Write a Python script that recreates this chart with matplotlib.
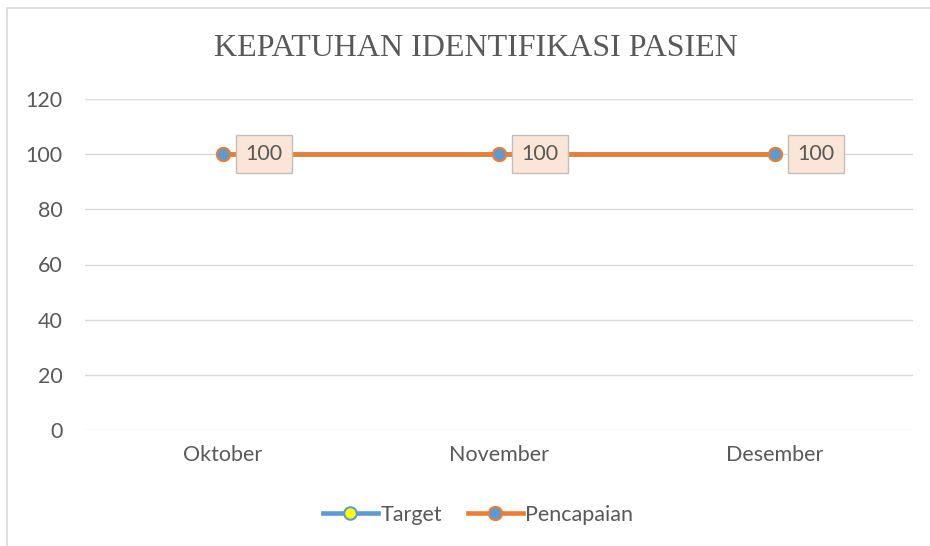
import matplotlib
matplotlib.use("Agg")
import matplotlib.pyplot as plt
from matplotlib.lines import Line2D
from matplotlib.patches import Rectangle

months = ["Oktober", "November", "Desember"]
target = [100, 100, 100]
pencapaian = [100, 100, 100]
yticks = [0, 20, 40, 60, 80, 100, 120]

fig = plt.figure(figsize=(9.30, 5.46), dpi=100)
ax = fig.add_axes([85/930, 1-430/546, (913-85)/930, (430-99)/546])

txt = "#595959"
font = "Lato"
fs = 15.5

for y in yticks:
    ax.axhline(y, color="#d9d9d9", lw=1.0, zorder=0)

x = list(range(len(months)))
ax.plot(x, target, color="#5B9BD5", lw=3.3, marker="o", ms=9, mfc="#FFFF00",
        mec="#5B9BD5", mew=1.5, zorder=2, solid_capstyle="round")
ax.plot(x, pencapaian, color="#ED7D31", lw=3.3, marker="o", ms=9.5, mfc="#5B9BD5",
        mec="#ED7D31", mew=1.5, zorder=3, solid_capstyle="round")

for xi, v in zip(x, pencapaian):
    ax.annotate(str(v), (xi, v), xytext=(41, 0), textcoords="offset pixels",
                ha="center", va="center", fontsize=fs, color=txt, family=font,
                bbox=dict(boxstyle="square,pad=0.42", fc="#FBE5D6", ec="#BFBFBF", lw=1.0),
                zorder=5)

ax.set_xlim(-0.5, len(months) - 0.5)
ax.set_ylim(0, 120)
ax.set_yticks(yticks)
ax.set_yticklabels([str(t) for t in yticks], fontsize=fs, color=txt, family=font)
ax.set_xticks(x)
ax.set_xticklabels(months, fontsize=fs, color=txt, family=font)
ax.tick_params(length=0, pad=16)
ax.tick_params(axis="x", pad=11)
for s in ax.spines.values():
    s.set_visible(False)

fig.text(476/930, 1-48/546, "KEPATUHAN IDENTIFIKASI PASIEN", ha="center", va="center",
         fontsize=23, color=txt, family="Liberation Serif")

handles = [
    Line2D([], [], color="#5B9BD5", lw=3.3, marker="o", ms=9, mfc="#FFFF00", mec="#5B9BD5", mew=1.5),
    Line2D([], [], color="#ED7D31", lw=3.3, marker="o", ms=9.5, mfc="#5B9BD5", mec="#ED7D31", mew=1.5),
]
leg = fig.legend(handles, ["Target", "Pencapaian"], loc="center", bbox_to_anchor=(478/930, 1-515/546),
                 ncol=2, frameon=False, handlelength=2.55, handletextpad=0.12, columnspacing=1.2,
                 prop={"family": font, "size": fs})
for t in leg.get_texts():
    t.set_color(txt)

fig.patches.append(Rectangle((7/930, -0.1), 1.2, 1 - 8/546 + 0.1, transform=fig.transFigure,
                             fill=False, ec="#d9d9d9", lw=1.2))

fig.savefig("out.png", dpi=100)
